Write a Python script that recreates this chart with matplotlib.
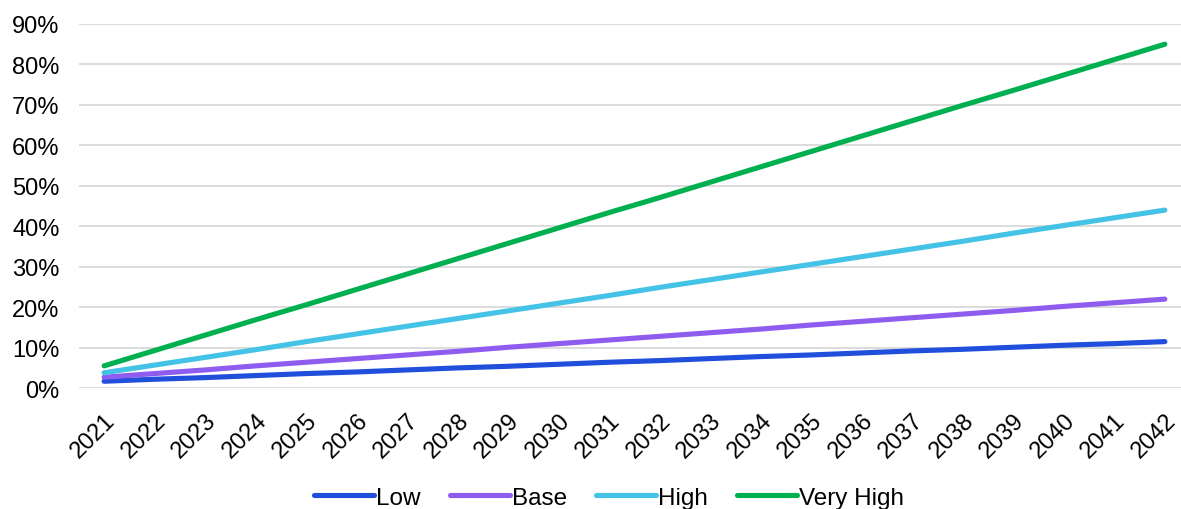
import matplotlib.pyplot as plt
from matplotlib.ticker import PercentFormatter

plt.rcParams['font.family'] = ['Liberation Sans', 'DejaVu Sans']

years = [str(y) for y in range(2021, 2043)]

low = [1.7, 2.2, 2.6, 3.1, 3.6, 4.0, 4.5, 5.0, 5.4, 5.9, 6.4,
       6.8, 7.3, 7.8, 8.2, 8.7, 9.2, 9.6, 10.1, 10.6, 11.0, 11.5]
base = [2.7, 3.6, 4.5, 5.5, 6.4, 7.3, 8.2, 9.1, 10.1, 11.0, 11.9,
        12.8, 13.7, 14.6, 15.6, 16.5, 17.4, 18.3, 19.2, 20.2, 21.1, 22.0]
high = [3.8, 5.7, 7.6, 9.5, 11.5, 13.4, 15.3, 17.2, 19.1, 21.0, 22.9,
        24.9, 26.8, 28.7, 30.6, 32.5, 34.4, 36.3, 38.3, 40.2, 42.1, 44.0]
very_high = [5.5, 9.3, 13.1, 16.9, 20.6, 24.4, 28.2, 32.0, 35.8, 39.6, 43.4,
             47.1, 50.9, 54.7, 58.5, 62.3, 66.1, 69.9, 73.6, 77.4, 81.2, 85.0]

series = [
    ('Low', low, '#1f4fdb'),
    ('Base', base, '#8f5cf0'),
    ('High', high, '#45c3e6'),
    ('Very High', very_high, '#00b050'),
]

fig = plt.figure(figsize=(11.81, 5.10), dpi=100)
ax = fig.add_axes([0.067, 0.237, 0.933, 0.714])

x = list(range(len(years)))
for name, vals, col in series:
    ax.plot(x, vals, color=col, lw=3.7, solid_capstyle='round',
            label=name, clip_on=False, zorder=3)

ax.set_ylim(0, 90)
ax.set_yticks(range(0, 91, 10))
ax.yaxis.set_major_formatter(PercentFormatter(decimals=0))
ax.set_xlim(-0.495, 21.32)
ax.set_xticks(x)
ax.set_xticklabels(years, rotation=45, ha='right', rotation_mode='anchor')

ax.grid(axis='y', color='#d9d9d9', lw=1.3)
ax.set_axisbelow(True)
for s in ax.spines.values():
    s.set_visible(False)
ax.tick_params(length=0, labelsize=17, colors='black')
ax.tick_params(axis='x', pad=15)
ax.tick_params(axis='y', pad=14)

fig.legend(loc='center', bbox_to_anchor=(0.516, 0.022), ncol=4,
           frameon=False, fontsize=17.5, handlelength=2.45,
           handletextpad=0.1, columnspacing=1.2)

fig.savefig('out.png', dpi=100)
